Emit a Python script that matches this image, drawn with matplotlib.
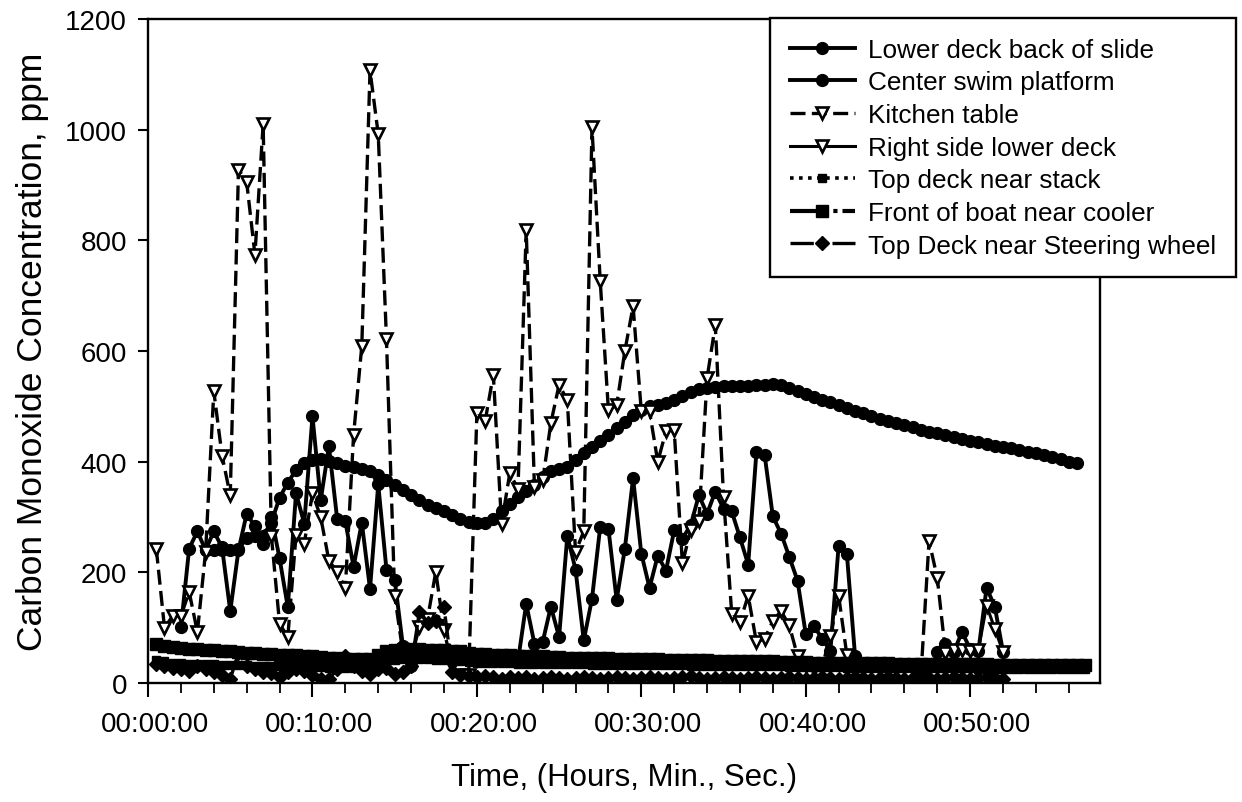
import numpy as np
import matplotlib
matplotlib.use("Agg")
import matplotlib.pyplot as plt
import matplotlib.transforms as mtransforms
from matplotlib.ticker import FixedLocator, MultipleLocator

plt.rcParams['font.family'] = ['Liberation Sans', 'DejaVu Sans']

STEP_MIN = 0.5  # sampling interval in minutes; series hold one value per sample
nan = np.nan

# ---- data (ppm), each series starts at sample index *_start ----
lower_deck_start = 7
lower_deck = [240, 240, 240, 240, 242, 262, 265, 266, 290, 335,
              362, 385, 398, 403, 405, 402, 398, 393, 390, 387,
              383, 376, 366, 357, 348, 339, 330, 322, 316, 310,
              303, 296, 291, 289, 290, 297, 310, 323, 337, 347,
              357, 372, 383, 387, 391, 403, 415, 426, 437, 448,
              460, 472, 484, 494, 500, 503, 506, 512, 518, 525,
              531, 534, 535, 536, 536, 536, 537, 538, 539, 540,
              538, 533, 527, 522, 517, 512, 507, 502, 497, 492,
              488, 483, 478, 474, 470, 466, 462, 458, 454, 451,
              448, 444, 441, 438, 435, 432, 429, 427, 424, 421,
              418, 415, 412, 408, 404, 400, 397]

center_swim_start = 4
center_swim = [101, 243, 274, 240, 274, 245, 130, 240, 306, 283,
               252, 300, 225, 137, 343, 288, 482, 330, 428, 297,
               292, 210, 290, 170, 359, 205, 187, 67, 30, nan,
               nan, nan, nan, nan, nan, nan, nan, nan, nan, nan,
               nan, 40, 143, 71, 74, 138, 83, 266, 205, 77,
               152, 282, 279, 150, 243, 370, 234, 172, 230, 203,
               276, 261, 285, 339, 306, 346, 315, 310, 263, 214,
               417, 412, 301, 270, 228, 185, 89, 103, 80, 58,
               248, 234, 49, nan, nan, nan, nan, nan, nan, nan,
               nan, nan, 56, 70, 56, 92, 62, 58, 172, 138,
               56]

kitchen_start = 1
kitchen = [243, 100, 121, 121, 165, 92, 237, 527, 411, 339,
           928, 905, 774, 1010, 266, 107, 83, 267, 252, 343,
           300, 221, 201, 172, 448, 609, 1107, 992, 622, 158,
           55, 45, 101, 116, 201, 95, 30, 15, 15, 488,
           473, 557, 288, 379, 351, 819, 355, 366, 470, 539,
           511, 237, 274, 1004, 727, 493, 502, 600, 681, 491,
           491, 400, 455, 457, 216, 276, 292, 551, 647, 337,
           125, 110, 158, 74, 80, 112, 130, 104, 49, 30,
           25, 30, 85, 158, 51, nan, nan, nan, nan, nan,
           nan, nan, nan, 10, 257, 190, 55, 60]

right_side_start = 99
right_side = [60, 58, 60, 140, 98, 56]

stack_start = 1
stack = [42, 39, 37, 36, 35, 35, 34, 34, 33, 33,
         32, 32, 31, 31, 31, 30, 30, 30, 29, 29,
         29, 28, 28, 28, 28, 27, 27, 31, 38, 42,
         44, 44, 43, 43, 42, 41, 40, 39, 38, 37,
         37, 36, 36, 36, 35, 35, 35, 35, 34, 34,
         34, 34, 34, 33, 33, 33, 33, 33, 33, 32,
         32, 32, 32, 32, 32, 31, 31, 31, 31, 31,
         31, 30, 30, 30, 30, 30, 30, 29, 29, 29,
         29, 29, 29, 29, 28, 28, 28, 28, 28, 28,
         28, 28, 27, 27, 27, 27, 27, 27, 27, 27,
         26, 26, 26, 26, 26, 26, 26, 26, 25, 25, 25, 25, 25, 25]

cooler_start = 1
cooler = [70, 67, 65, 63, 62, 61, 60, 59, 58, 57,
          56, 55, 54, 53, 52, 51, 50, 50, 49, 48,
          47, 46, 45, 44, 44, 43, 43, 50, 58, 60,
          62, 62, 61, 60, 60, 59, 58, 57, 55, 53,
          52, 51, 50, 50, 49, 49, 48, 48, 47, 47,
          46, 46, 46, 45, 45, 45, 44, 44, 44, 43,
          43, 43, 42, 42, 42, 41, 41, 41, 40, 40,
          40, 40, 39, 39, 39, 39, 38, 38, 38, 38,
          37, 37, 37, 37, 37, 36, 36, 36, 36, 36,
          35, 35, 35, 35, 35, 35, 34, 34, 34, 34,
          34, 34, 33, 33, 33, 33, 33, 33, 32, 32, 32, 32, 32, 32]

wheel_start = 1
wheel = [35, 30, 28, 25, 22, 30, 25, 20, 15, 7,
         55, 30, 25, 20, 18, 11, 20, 25, 22, 15,
         7, 7, 25, 49, 30, 22, 16, 25, 28, 16,
         20, 30, 128, 108, 112, 137, 20, 15, 12, 10,
         12, 10, 8, 10, 9, 10, 8, 9, 10, 9,
         8, 9, 10, 9, 8, 9, 10, 9, 8, 9,
         10, 9, 8, 9, 10, 12, 9, 8, 9, 10,
         9, 8, 9, 10, 9, 8, 9, 10, 9, 8,
         9, 10, 9, 8, 9, 10, 9, 8, 9, 10,
         9, 8, 9, 10, 9, 8, 9, 10, 9, 8,
         9, 10, 9, 8]

labels = ["Lower deck back of slide", "Center swim platform", "Kitchen table",
          "Right side lower deck", "Top deck near stack",
          "Front of boat near cooler", "Top Deck near Steering wheel"]

x_major = [0, 10, 20, 30, 40, 50]
x_labels = ["00:00:00", "00:10:00", "00:20:00", "00:30:00", "00:40:00", "00:50:00"]
y_ticks = [0, 200, 400, 600, 800, 1000, 1200]


def times(start, vals):
    return (start + np.arange(len(vals))) * STEP_MIN


fig = plt.figure(figsize=(12.42, 8.03), dpi=100)
ax = fig.add_axes([0.1192, 0.1482, 0.7665, 0.8269])

K = 'black'
ax.plot(times(lower_deck_start, lower_deck), np.array(lower_deck, float), color=K,
        lw=2.8, marker='o', ms=8.5, mfc=K, mec=K, label=labels[0])
ax.plot(times(center_swim_start, center_swim), np.array(center_swim, float), color=K,
        lw=2.8, marker='o', ms=8.5, mfc=K, mec=K, label=labels[1])
ax.plot(times(kitchen_start, kitchen), np.array(kitchen, float), color=K,
        lw=2.4, ls=(0, (4.5, 1.9)), marker='v', ms=9, mfc='white', mec=K, mew=1.9,
        label=labels[2])
ax.plot(times(right_side_start, right_side), np.array(right_side, float), color=K,
        lw=2.2, marker='v', ms=9, mfc='white', mec=K, mew=1.9, label=labels[3])
ax.plot(times(stack_start, stack), np.array(stack, float), color=K,
        lw=2.6, ls=(0, (1, 1.5)), marker='s', ms=6, mfc=K, mec=K, label=labels[4])
ax.plot(times(cooler_start, cooler), np.array(cooler, float), color=K,
        lw=3.0, ls=(0, (7, 1.2, 1, 1.2, 1, 1.2)), marker='s', ms=8.5, mfc=K, mec=K,
        label=labels[5])
ax.plot(times(wheel_start, wheel), np.array(wheel, float), color=K,
        lw=2.4, ls=(0, (7, 1.2, 1, 1.2, 1, 1.2)), marker='D', ms=7, mfc=K, mec=K,
        label=labels[6])

ax.set_xlim(0, 57.9)
ax.set_ylim(0, 1200)
ax.xaxis.set_major_locator(FixedLocator(x_major))
ax.set_xticklabels(x_labels)
ax.xaxis.set_minor_locator(MultipleLocator(2))
ax.set_yticks(y_ticks)
ax.set_yticklabels([str(v) for v in y_ticks])

for s in ax.spines.values():
    s.set_linewidth(1.7)
ax.tick_params(axis='x', which='major', direction='out', length=10, width=1.5,
               labelsize=20, pad=10)
ax.tick_params(axis='x', which='minor', direction='out', length=7, width=1.3)
ax.tick_params(axis='y', which='major', direction='out', length=7, width=1.5,
               labelsize=20, pad=8)

offset = mtransforms.ScaledTranslation(0.07, 0, fig.dpi_scale_trans)
for lab in ax.get_xticklabels():
    lab.set_transform(lab.get_transform() + offset)

ax.set_xlabel("Time, (Hours, Min., Sec.)", fontsize=22.5, labelpad=18)
ax.set_ylabel("Carbon Monoxide Concentration, ppm", fontsize=25.5, labelpad=12)

leg = ax.legend(loc='upper left', bbox_to_anchor=(0.62, 0.976),
                bbox_transform=fig.transFigure, fontsize=18.8, frameon=True,
                fancybox=False, edgecolor=K, framealpha=1, handlelength=2.5,
                handletextpad=0.5, labelspacing=0.33, borderpad=0.75,
                borderaxespad=0)
leg.get_frame().set_linewidth(1.7)

fig.savefig("out.png", dpi=100)
